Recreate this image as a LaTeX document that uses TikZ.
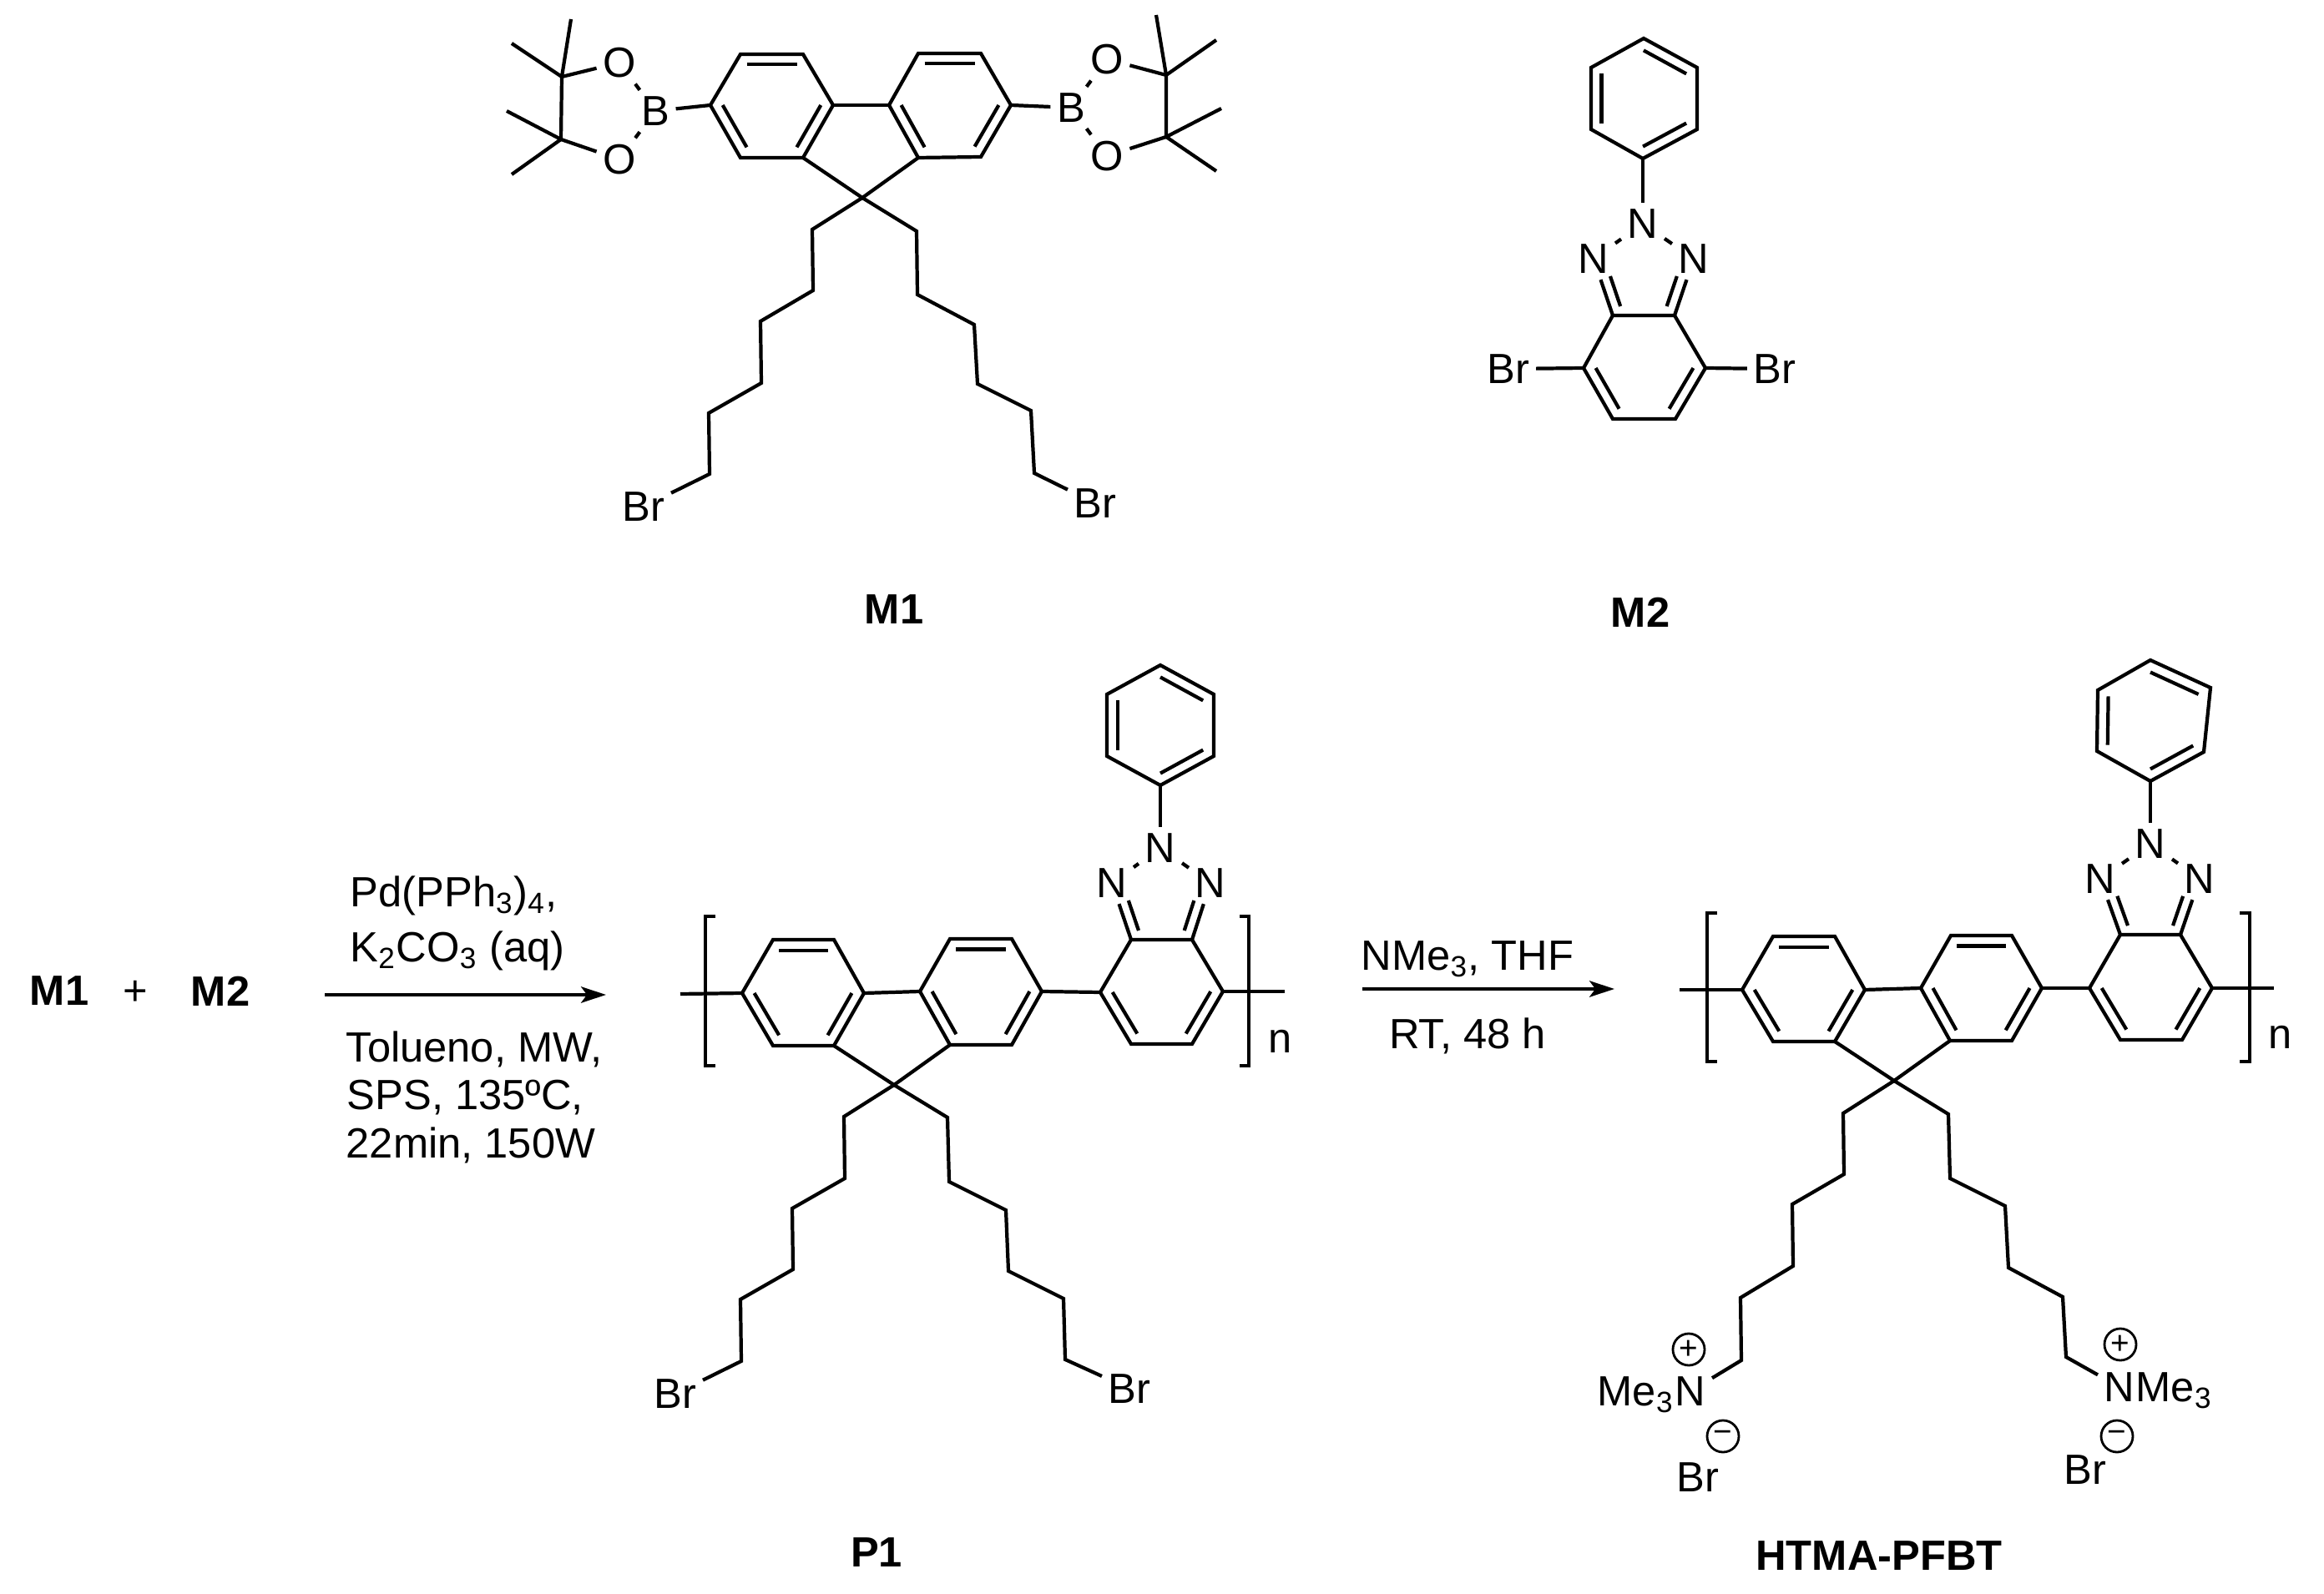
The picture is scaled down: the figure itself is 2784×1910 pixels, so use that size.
\documentclass[tikz,border=0pt]{standalone}
\usepackage{fontspec}
\setmainfont{Liberation Sans}
\usetikzlibrary{calc,arrows.meta}
\tikzset{
  bond/.style={line width=1.2pt,line join=miter,line cap=butt,black},
  atom/.style={inner sep=2pt,font=\fontsize{14.4}{17}\selectfont},
  txt/.style={inner sep=0pt,font=\fontsize{14.4}{17}\selectfont},
  lab/.style={inner sep=0pt,font=\fontsize{14.4}{17}\selectfont\bfseries},
  charge/.style={circle,draw,line width=0.8pt,inner sep=0pt,minimum size=0.38cm,font=\fontsize{11}{11}\selectfont},
  rxn/.style={line width=1.2pt,-{Stealth[length=8.5pt,width=5.5pt,inset=2pt]}},
}
\newcommand\innerbond[3]{\draw[bond] ($(#1)!0.2!(#3)$) -- ($(#2)!0.2!(#3)$);}
% fluorene core: prefix
\newcommand\fluorenecore[1]{%
  \coordinate (#1cL) at ($(#1a)!.5!(#1d)$);
  \coordinate (#1cR) at ($(#1g)!.5!(#1j)$);
  \draw[bond] (#1a) -- (#1b) -- (#1c) -- (#1d) -- (#1e) -- (#1f) -- cycle;
  \draw[bond] (#1g) -- (#1h) -- (#1i) -- (#1j) -- (#1k) -- (#1l) -- cycle;
  \draw[bond] (#1d) -- (#1g);
  \draw[bond] (#1e) -- (#1C9) -- (#1l);
  \innerbond{#1b}{#1c}{#1cL}\innerbond{#1a}{#1f}{#1cL}\innerbond{#1d}{#1e}{#1cL}
  \innerbond{#1h}{#1i}{#1cR}\innerbond{#1g}{#1l}{#1cR}\innerbond{#1j}{#1k}{#1cR}
}
% phenyl-benzotriazole unit: prefix
\newcommand\ptriazole[1]{%
  \node[atom] (#1Nt) at (#1nt) {N};
  \node[atom] (#1Nl) at (#1nl) {N};
  \node[atom] (#1Nr) at (#1nr) {N};
  \coordinate (#1cP) at ($(#1top)!.5!(#1bot)$);
  \coordinate (#1cB) at ($(#1L)!.5!(#1R)$);
  \coordinate (#1mC) at ($(#1Cl)!.5!(#1Cr)$);
  \coordinate (#1cT) at ($(#1Nt)!.6!(#1mC)$);
  \draw[bond] (#1top) -- (#1ur) -- (#1lr) -- (#1bot) -- (#1ll) -- (#1ul) -- cycle;
  \innerbond{#1top}{#1ur}{#1cP}\innerbond{#1ul}{#1ll}{#1cP}\innerbond{#1bot}{#1lr}{#1cP}
  \draw[bond] (#1bot) -- (#1Nt);
  \draw[bond] (#1Nt) -- (#1Nl);
  \draw[bond] (#1Nt) -- (#1Nr);
  \draw[bond] (#1Nl) -- (#1Cl);
  \draw[bond] (#1Nr) -- (#1Cr);
  \draw[bond,shorten >=4.5pt] ($(#1Cl)!.25!(#1cT)$) -- ($(#1Nl)!.25!(#1cT)$);
  \draw[bond,shorten >=4.5pt] ($(#1Cr)!.25!(#1cT)$) -- ($(#1Nr)!.25!(#1cT)$);
  \draw[bond] (#1Cl) -- (#1Cr) -- (#1R) -- (#1BR) -- (#1BL) -- (#1L) -- cycle;
  \innerbond{#1L}{#1BL}{#1cB}\innerbond{#1R}{#1BR}{#1cB}
}
\begin{document}
\begin{tikzpicture}[x=0.01cm,y=-0.01cm]
\useasboundingbox (0,0) rectangle (2784,1910);
% ---------- M1 ----------
\foreach \n/\x/\y in {a/851/126,b/887/65,c/962/65,d/998/126,e/962/189,f/887/189,
  g/1065/126,h/1100/64,i/1175/64,j/1211/126,k/1175/188,l/1100/189,C9/1033/237,
  pt/673/92,pb/672/167,m1/684/23,m2/613/52,m3/607/133,m4/613/209,
  qt/1397/90,qb/1397/164,m5/1385/18,m6/1457/48,m7/1463/130,m8/1457/205,
  l1/973/275,l2/974/348,l3/911/385,l4/912/459,l5/849/495,l6/850/568,
  r1/1098/277,r2/1099/353,r3/1167/389,r4/1171/460,r5/1235/492,r6/1239/567}
  \coordinate (M\n) at (\x,\y);
\node[atom] (MBl) at (785,133) {B};
\node[atom] (MOlt) at (742,75) {O};
\node[atom] (MOlb) at (742,191) {O};
\node[atom] (MBr) at (1283,129) {B};
\node[atom] (MOrt) at (1326,71) {O};
\node[atom] (MOrb) at (1326,187) {O};
\node[atom] (MXl) at (771,607) {Br};
\node[atom] (MXr) at (1312,603) {Br};
\fluorenecore{M}
\draw[bond] (Ma) -- (MBl);
\draw[bond] (Mj) -- (MBr);
\draw[bond] (MBl) -- (MOlt);
\draw[bond] (MBl) -- (MOlb);
\draw[bond] (MOlt) -- (Mpt) -- (Mpb) -- (MOlb);
\draw[bond] (Mm1) -- (Mpt) -- (Mm2);
\draw[bond] (Mm3) -- (Mpb) -- (Mm4);
\draw[bond] (MBr) -- (MOrt);
\draw[bond] (MBr) -- (MOrb);
\draw[bond] (MOrt) -- (Mqt) -- (Mqb) -- (MOrb);
\draw[bond] (Mm5) -- (Mqt) -- (Mm6);
\draw[bond] (Mm7) -- (Mqb) -- (Mm8);
\draw[bond] (MC9) -- (Ml1) -- (Ml2) -- (Ml3) -- (Ml4) -- (Ml5) -- (Ml6) -- (MXl);
\draw[bond] (MC9) -- (Mr1) -- (Mr2) -- (Mr3) -- (Mr4) -- (Mr5) -- (Mr6) -- (MXr);
\node[lab] (lM1) at (1071,730) {M1};
% ---------- M2 ----------
\foreach \n/\x/\y in {top/1969/46,ur/2033/81,lr/2033/155,bot/1968/190,ll/1906/155,ul/1906/81,
  nt/1968/268,nl/1909/310,nr/2029/310,Cl/1932/378,Cr/2006/378,
  L/1897/441,R/2043/441,BL/1932/502,BR/2007/502}
  \coordinate (T\n) at (\x,\y);
\ptriazole{T}
\node[atom] (TXl) at (1807,442) {Br};
\node[atom] (TXr) at (2126,442) {Br};
\draw[bond] (TL) -- (TXl);
\draw[bond] (TR) -- (TXr);
\node[lab] (lM2) at (1965,734) {M2};
% ---------- reaction 1 ----------
\node[lab] (rM1) at (71,1187) {M1};
\node[txt] (plus) at (162,1190) {+};
\node[lab] (rM2) at (264,1188) {M2};
\coordinate (a1s) at (389,1192);
\coordinate (a1e) at (726,1192);
\draw[rxn] (a1s) -- (a1e);
\node[txt,anchor=base west] (t1) at (419,1087) {Pd(PPh\textsubscript{3})\textsubscript{4},};
\node[txt,anchor=base west] (t2) at (419,1153) {K\textsubscript{2}CO\textsubscript{3} (aq)};
\node[txt,anchor=base west] (t3) at (414,1273) {Tolueno, MW,};
\node[txt,anchor=base west] (t4) at (415,1330) {SPS, 135ºC,};
\node[txt,anchor=base west] (t5) at (414,1387) {22min, 150W};
% ---------- P1 ----------
\foreach \n/\x/\y in {top/1390/797,ur/1454/832,lr/1454/906,bot/1390/941,ll/1326/906,ul/1326/832,
  nt/1390/1016,nl/1332/1058,nr/1450/1058,Cl/1355/1126,Cr/1428/1126,
  L/1318/1189,R/1465/1188,BL/1355/1251,BR/1428/1251,
  a/889/1190,b/926/1126,c/999/1126,d/1035/1190,e/999/1253,f/926/1253,
  g/1102/1188,h/1138/1125,i/1212/1125,j/1248/1188,k/1212/1252,l/1138/1252,C9/1071/1300,
  fl/815/1191,fr/1539/1188,
  l1/1011/1338,l2/1012/1412,l3/949/1448,l4/950/1521,l5/887/1557,l6/888/1631,
  r1/1135/1339,r2/1137/1416,r3/1205/1450,r4/1208/1523,r5/1274/1556,r6/1276/1629}
  \coordinate (P\n) at (\x,\y);
\ptriazole{P}
\fluorenecore{P}
\draw[bond] (Pj) -- (PL);
\draw[bond] (Pa) -- (Pfl);
\draw[bond] (PR) -- (Pfr);
\draw[bond] (857,1098) -- (845,1098) -- (845,1277) -- (857,1277);
\draw[bond] (1485,1098) -- (1496,1098) -- (1496,1277) -- (1485,1277);
\node[txt] (Pn) at (1534,1248) {n};
\node[atom] (PXl) at (809,1670) {Br};
\node[atom] (PXr) at (1353,1664) {Br};
\draw[bond] (PC9) -- (Pl1) -- (Pl2) -- (Pl3) -- (Pl4) -- (Pl5) -- (Pl6) -- (PXl);
\draw[bond] (PC9) -- (Pr1) -- (Pr2) -- (Pr3) -- (Pr4) -- (Pr5) -- (Pr6) -- (PXr);
\node[lab] (lP1) at (1050,1860) {P1};
% ---------- reaction 2 ----------
\coordinate (a2s) at (1632,1185);
\coordinate (a2e) at (1934,1185);
\draw[rxn] (a2s) -- (a2e);
\node[txt,anchor=base] (t6) at (1758,1163) {NMe\textsubscript{3}, THF};
\node[txt,anchor=base] (t7) at (1758,1257) {RT, 48 h};
% ---------- HTMA-PFBT ----------
\foreach \n/\x/\y in {top/2576/791,ur/2648/824,lr/2640/901,bot/2576/936,ll/2512/900,ul/2513/827,
  nt/2576/1011,nl/2516/1053,nr/2635/1053,Cl/2540/1120,Cr/2612/1120,
  L/2503/1184,R/2650/1184,BL/2540/1246,BR/2614/1246,
  a/2087/1186,b/2124/1122,c/2198/1122,d/2234/1186,e/2198/1248,f/2124/1248,
  g/2301/1184,h/2337/1121,i/2410/1121,j/2446/1184,k/2410/1247,l/2336/1247,C9/2269/1295,
  fl/2012/1186,fr/2724/1184,
  l1/2208/1334,l2/2209/1407,l3/2147/1443,l4/2148/1517,l5/2085/1555,l6/2086/1630,
  r1/2334/1335,r2/2336/1412,r3/2402/1445,r4/2406/1519,r5/2471/1554,r6/2475/1626}
  \coordinate (H\n) at (\x,\y);
\ptriazole{H}
\fluorenecore{H}
\draw[bond] (Hj) -- (HL);
\draw[bond] (Ha) -- (Hfl);
\draw[bond] (HR) -- (Hfr);
\draw[bond] (2057,1094) -- (2045,1094) -- (2045,1272) -- (2057,1272);
\draw[bond] (2683,1094) -- (2695,1094) -- (2695,1272) -- (2683,1272);
\node[txt] (Hn) at (2732,1243) {n};
\node[atom] (HNl) at (2025,1667) {N};
\node[txt,anchor=base east,xshift=2pt] (HMel) at (HNl.base west) {Me\textsubscript{3}};
\node[atom] (HNr) at (2539,1662) {N};
\node[txt,anchor=base west,xshift=-2pt] (HMer) at (HNr.base east) {Me\textsubscript{3}};
\node[charge] (Hpl) at (2023,1617) {+};
\node[charge] (Hpr) at (2540,1611) {+};
\node[charge] (Hml) at (2064,1721) {−};
\node[charge] (Hmr) at (2536,1721) {−};
\node[atom] (HXl) at (2034,1770) {Br};
\node[atom] (HXr) at (2498,1761) {Br};
\draw[bond] (HC9) -- (Hl1) -- (Hl2) -- (Hl3) -- (Hl4) -- (Hl5) -- (Hl6) -- (HNl);
\draw[bond] (HC9) -- (Hr1) -- (Hr2) -- (Hr3) -- (Hr4) -- (Hr5) -- (Hr6) -- (HNr);
\node[lab] (lH) at (2251,1864) {HTMA-PFBT};
\end{tikzpicture}
\end{document}
